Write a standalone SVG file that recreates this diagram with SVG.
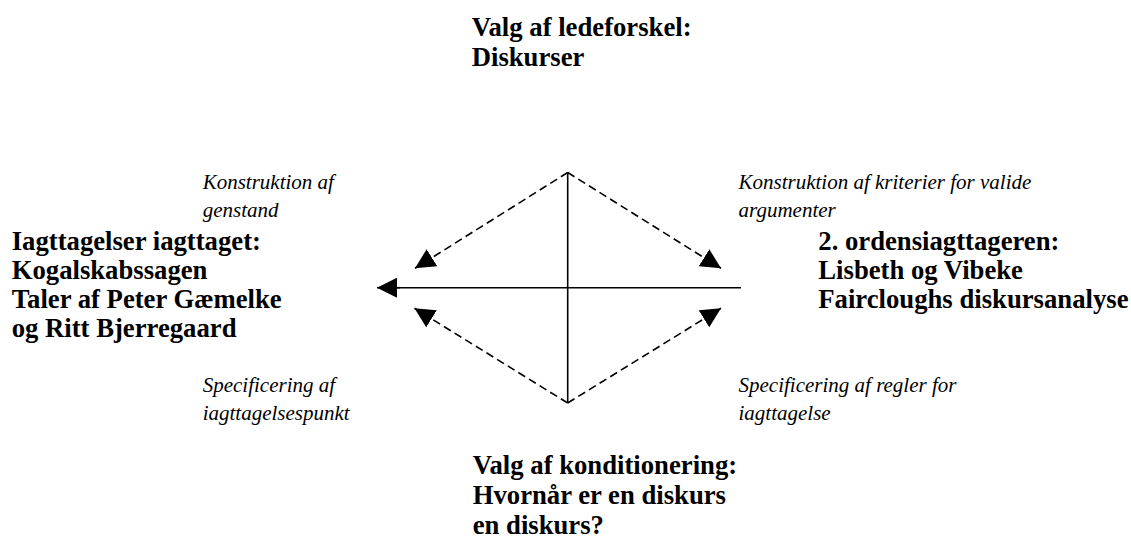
<svg xmlns="http://www.w3.org/2000/svg" width="1131" height="557" viewBox="0 0 1131 557">
  <style>
    .bold { font-family: "Liberation Serif", "Times New Roman", serif; font-weight: bold; font-size: 26.7px; fill: #000; }
    .ital { font-family: "Liberation Serif", "Times New Roman", serif; font-style: italic; font-size: 21px; fill: #000; }
    .solid { stroke: #000; stroke-width: 1.6; fill: none; }
    .dash { stroke: #000; stroke-width: 1.6; fill: none; stroke-dasharray: 8 4.5; }
  </style>
  <defs>
    <marker id="arrow" viewBox="0 0 20 20" refX="20" refY="10" markerWidth="20" markerHeight="20" markerUnits="userSpaceOnUse" orient="auto">
      <path d="M0,0 L20,10 L0,20 z" fill="#000"/>
    </marker>
  </defs>
  <rect width="1131" height="557" fill="#fff"/>

  <g id="connectors">
    <line class="solid" x1="567.7" y1="172.5" x2="567.7" y2="403"/>
    <line class="solid" x1="741" y1="287.7" x2="396" y2="287.7"/>
    <line class="solid" x1="400" y1="287.7" x2="377" y2="287.7" marker-end="url(#arrow)"/>
    <line class="dash" x1="567.7" y1="172.5" x2="415" y2="268.3" marker-end="url(#arrow)"/>
    <line class="dash" x1="567.7" y1="172.5" x2="721" y2="268.3" marker-end="url(#arrow)"/>
    <line class="dash" x1="567.7" y1="403" x2="414.5" y2="308.3" marker-end="url(#arrow)"/>
    <line class="dash" x1="567.7" y1="403" x2="721" y2="308.3" marker-end="url(#arrow)"/>
  </g>

  <g id="node-top">
    <text class="bold" x="471.7" y="36">Valg af ledeforskel:</text>
    <text class="bold" x="471.7" y="66">Diskurser</text>
  </g>
  <g id="node-left">
    <text class="bold" x="11.7" y="250">Iagttagelser iagttaget:</text>
    <text class="bold" x="11.7" y="279">Kogalskabssagen</text>
    <text class="bold" x="11.7" y="308">Taler af Peter Gæmelke</text>
    <text class="bold" x="11.7" y="337">og Ritt Bjerregaard</text>
  </g>
  <g id="node-right">
    <text class="bold" x="818.3" y="250">2. ordensiagttageren:</text>
    <text class="bold" x="818.3" y="279">Lisbeth og Vibeke</text>
    <text class="bold" x="818.3" y="308">Faircloughs diskursanalyse</text>
  </g>
  <g id="node-bottom">
    <text class="bold" x="472.7" y="474">Valg af konditionering:</text>
    <text class="bold" x="472.7" y="504">Hvornår er en diskurs</text>
    <text class="bold" x="472.7" y="534">en diskurs?</text>
  </g>
  <g id="label-top-left">
    <text class="ital" x="202.7" y="188.5">Konstruktion af</text>
    <text class="ital" x="202.7" y="217">genstand</text>
  </g>
  <g id="label-top-right">
    <text class="ital" x="738.5" y="188.5">Konstruktion af kriterier for valide</text>
    <text class="ital" x="738.5" y="217">argumenter</text>
  </g>
  <g id="label-bottom-left">
    <text class="ital" x="202.7" y="391.5">Specificering af</text>
    <text class="ital" x="202.7" y="419.5">iagttagelsespunkt</text>
  </g>
  <g id="label-bottom-right">
    <text class="ital" x="738.5" y="391.5">Specificering af regler for</text>
    <text class="ital" x="738.5" y="419.5">iagttagelse</text>
  </g>
</svg>
